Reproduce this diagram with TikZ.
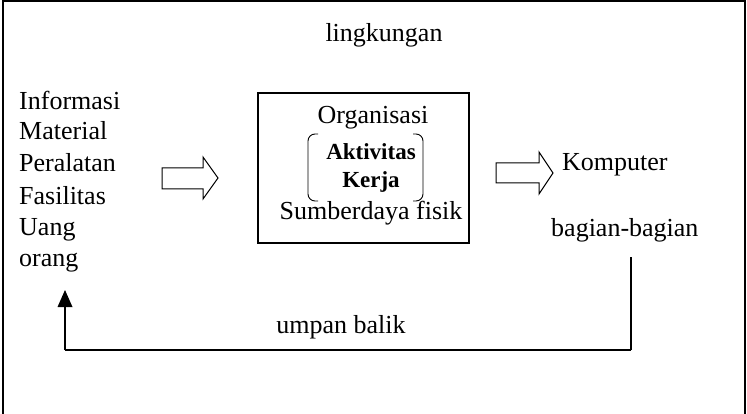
\documentclass[tikz,border=0pt]{standalone}
\usepackage{fontspec}
\setmainfont{Liberation Serif}
\begin{document}
\begin{tikzpicture}[x=1pt,y=-1pt,
  txt/.style={inner sep=0pt, font=\fontsize{26}{30}\selectfont},
  bold/.style={inner sep=0pt, font=\fontsize{23}{27}\selectfont\bfseries},
  frame/.style={line width=1.6pt},
  blockarrow/.style={line width=1pt, line join=miter},
  feedback/.style={line width=2.6pt},
  feedbase/.style={line width=1.8pt}]
\useasboundingbox (0,0) rectangle (747,414);

% environment frame, open at the bottom
\draw[frame] (3,414) -- (3,1) -- (745,1) -- (745,414);
\node[txt] (env) at (384,35) {lingkungan};

% inputs
\node[txt, anchor=west] (in1) at (19,100) {Informasi};
\node[txt, anchor=west] (in2) at (19,131) {Material};
\node[txt, anchor=west] (in3) at (19,163) {Peralatan};
\node[txt, anchor=west] (in4) at (19,196) {Fasilitas};
\node[txt, anchor=west] (in5) at (19,230) {Uang};
\node[txt, anchor=west] (in6) at (19,263) {orang};

% block arrow into the organisation
\draw[blockarrow] (162,168) -- (203,168) -- (203,157) -- (218,178)
  -- (203,199) -- (203,189) -- (162,189) -- cycle;

% organisation box
\node[draw, line width=1.6pt, minimum width=211pt, minimum height=150pt, inner sep=0pt]
  (org) at (363.5,168) {};
\node[txt] (o1) at (373,118) {Organisasi};
\node[bold] (o2) at (371,152) {Aktivitas};
\node[bold] (o3) at (371,182) {Kerja};
\node[txt] (o4) at (371,213) {Sumberdaya fisik};
\draw[line width=0.9pt, rounded corners=7pt] (318,134) -- (308,134) -- (308,201) -- (318,201);
\draw[line width=0.9pt, rounded corners=7pt] (413,134) -- (423,134) -- (423,201) -- (413,201);

% block arrow out of the organisation
\draw[blockarrow] (496,163) -- (539,163) -- (539,152) -- (553,173)
  -- (539,194) -- (539,183) -- (496,183) -- cycle;

% outputs
\node[txt, anchor=west] (out1) at (562,165) {Komputer};
\node[txt, anchor=west] (out2) at (551,230) {bagian-bagian};

% feedback loop
\coordinate (fbtop) at (631,257);
\coordinate (fbr) at (631,350);
\coordinate (fbl) at (65,350);
\coordinate (fbtip) at (65,290);
\draw[feedback] (fbtop) -- (fbr);
\draw[feedbase] (fbr) -- (fbl);
\draw[feedback] (fbl) -- (65,305);
\fill (fbtip) -- (72.5,307) -- (57.5,307) -- cycle;
\node[txt] (fb) at (341,327) {umpan balik};
\end{tikzpicture}
\end{document}
